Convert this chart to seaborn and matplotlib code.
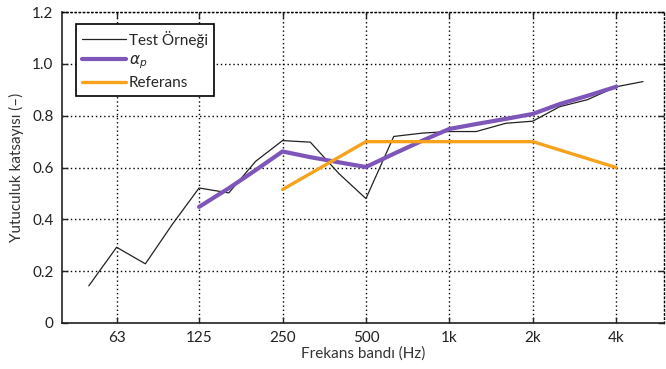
import numpy as np
import pandas as pd
import matplotlib
matplotlib.use("Agg")
import matplotlib.pyplot as plt
import seaborn as sns

# third-octave band centres (Hz)
test_freqs = [50, 63, 80, 100, 125, 160, 200, 250, 315, 400, 500, 630, 800,
              1000, 1250, 1600, 2000, 2500, 3150, 4000, 5000]
test_values = [0.143, 0.292, 0.228, 0.38, 0.521, 0.502, 0.624, 0.704, 0.698,
               0.576, 0.48, 0.72, 0.733, 0.739, 0.739, 0.771, 0.779, 0.835,
               0.862, 0.912, 0.932]

alpha_freqs = [125, 160, 200, 250, 315, 400, 500, 630, 800, 1000, 1250, 1600,
               2000, 2500, 3150, 4000]
alpha_values = [0.448, 0.52, 0.59, 0.662, 0.64, 0.62, 0.602, 0.653, 0.704,
                0.749, 0.768, 0.788, 0.807, 0.845, 0.877, 0.912]

ref_freqs = [250, 500, 1000, 2000, 4000]
ref_values = [0.515, 0.70, 0.70, 0.70, 0.60]

tick_freqs = [63, 125, 250, 500, 1000, 2000, 4000]
tick_labels = ["63", "125", "250", "500", "1k", "2k", "4k"]

sns.set_style("white")
plt.rcParams['font.family'] = ['Lato', 'DejaVu Sans']
plt.rcParams['font.size'] = 11

fig = plt.figure(figsize=(6.66, 3.69), dpi=100)
ax = fig.add_axes([0.093, 0.125, 0.904, 0.842])

df_test = pd.DataFrame({'f': test_freqs, 'a': test_values})
df_alpha = pd.DataFrame({'f': alpha_freqs, 'a': alpha_values})
df_ref = pd.DataFrame({'f': ref_freqs, 'a': ref_values})

sns.lineplot(data=df_test, x='f', y='a', ax=ax, color='#222222', lw=0.9,
             label='Test Örneği')
sns.lineplot(data=df_alpha, x='f', y='a', ax=ax, color='#7e55b8', lw=3,
             label=r'$\alpha_p$')
sns.lineplot(data=df_ref, x='f', y='a', ax=ax, color='#f7a21c', lw=2.4,
             label='Referans')

ax.set_xscale('log')
ax.set_xlim(40, 5950)
ax.set_ylim(0, 1.2)
ax.set_xticks(tick_freqs)
ax.set_xticklabels(tick_labels)
ax.xaxis.set_minor_locator(matplotlib.ticker.NullLocator())
ax.set_yticks(np.arange(0, 1.21, 0.2))
ax.set_yticklabels(["0", "0.2", "0.4", "0.6", "0.8", "1.0", "1.2"])

dots = (0, (1, 2))
ax.grid(True, linestyle=dots, color='black', lw=1)
ax.tick_params(direction='in', length=4, width=1, colors='#222222',
               labelsize=11, pad=6, bottom=True, left=True, top=True, right=True)
for s in ['top', 'right']:
    ax.spines[s].set_linestyle(dots)
    ax.spines[s].set_color('black')
    ax.spines[s].set_linewidth(1)
for s in ['left', 'bottom']:
    ax.spines[s].set_color('#222222')
    ax.spines[s].set_linewidth(1.2)

ax.set_xlabel('Frekans bandı (Hz)', fontsize=11, labelpad=1, color='#333333')
ax.set_ylabel('Yutuculuk katsayısı (–)', fontsize=11, labelpad=6, color='#333333')

leg = ax.legend(loc='upper left', bbox_to_anchor=(0.01, 0.985), fancybox=False,
                framealpha=1, edgecolor='black', fontsize=11, handlelength=2.9,
                borderpad=0.4, labelspacing=0.35, handletextpad=0.2)
leg.get_frame().set_linewidth(1.2)

fig.savefig('out.png', dpi=100)
